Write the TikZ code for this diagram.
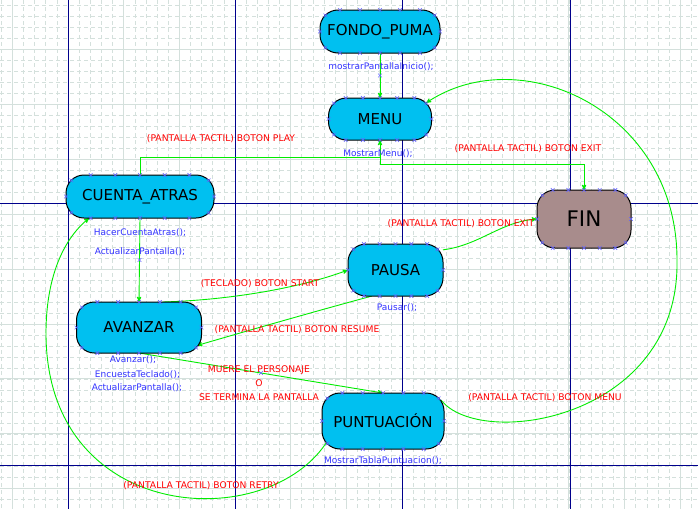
\documentclass[tikz,border=0pt]{standalone}
\usepackage{fontspec}
\setmainfont{DejaVu Sans}
\usetikzlibrary{arrows,calc}
\pgfdeclarelayer{background}
\pgfsetlayers{background,main}
\definecolor{celeste}{RGB}{0,192,240}
\definecolor{marron}{RGB}{168,140,140}
\definecolor{verde}{RGB}{0,236,0}
\definecolor{rejilla}{RGB}{212,224,220}
\definecolor{marino}{RGB}{0,0,140}
\definecolor{azul}{RGB}{50,50,255}
\definecolor{cruz}{RGB}{100,100,255}
\tikzstyle{estado}=[draw=black,line width=1pt,fill=celeste,rectangle,rounded corners=18pt,inner sep=0pt,outer sep=0pt,font=\fontsize{15}{18}\selectfont]
\tikzstyle{trans}=[draw=verde,line width=0.9pt,-stealth']
\tikzstyle{etiq}=[text=red,font=\fontsize{9.2}{14}\selectfont,inner sep=0pt]
\tikzstyle{accion}=[text=azul,font=\fontsize{9}{11}\selectfont,inner sep=0pt]
\tikzstyle{menor}=[rejilla,line width=0.6pt,dash pattern=on 4pt off 3pt]
\tikzstyle{mayor}=[rejilla,line width=0.9pt]
\tikzstyle{pagina}=[marino,line width=0.8pt]
\tikzset{xmk/.pic={\draw[cruz,line width=0.6pt] (-1.8pt,-1.8pt) -- (1.8pt,1.8pt) (-1.8pt,1.8pt) -- (1.8pt,-1.8pt);}}
% little x handles round a state
\newcommand{\statemarks}[1]{%
  \foreach \fr in {0.1667,0.3333,0.5,0.6667,0.8333}{
    \path ($(#1.north west)!\fr!(#1.north east)$) pic{xmk};
    \path ($(#1.south west)!\fr!(#1.south east)$) pic{xmk};
  }
  \path (#1.west) pic{xmk} (#1.east) pic{xmk};
  \path ([shift={(5.3pt,-5.3pt)}]#1.north west) pic{xmk}
        ([shift={(-5.3pt,-5.3pt)}]#1.north east) pic{xmk}
        ([shift={(5.3pt,5.3pt)}]#1.south west) pic{xmk}
        ([shift={(-5.3pt,5.3pt)}]#1.south east) pic{xmk};
}

\begin{document}
\begin{tikzpicture}[x=1pt,y=-1pt]
	\useasboundingbox (0,0) rectangle (698,509);

	% First the sheet: grid and page borders
	\begin{pgfonlayer}{background}
		\fill[white] (0,0) rectangle (698,509);
		\foreach \i in {0,...,62} \draw[menor] ({1.27+11.13*\i},0) -- ++(0,509);
		\foreach \i in {1,...,46} \draw[menor] (0,{-5.4+10.98*\i}) -- ++(698,0);
		\foreach \i in {0,...,12} \draw[mayor] ({12.4+55.65*\i},0) -- ++(0,509);
		\foreach \i in {1,...,9} \draw[mayor] (0,{-5.4+54.9*\i}) -- ++(698,0);
		\foreach \x in {68,235,402,570} \draw[pagina] (\x,0) -- ++(0,509);
		\foreach \y in {203,465} \draw[pagina] (0,\y) -- ++(698,0);
	\end{pgfonlayer}

	% Then the states
	\foreach \pos/\name/\txt/\w/\h in {{(380,31.5)/fondo/FONDO\_PUMA/120/43}, {(380,119)/menu/MENU/103/42},
							{(140,196.5)/cuenta/CUENTA\_ATRAS/148/43}, {(395.5,270)/pausa/PAUSA/95/52},
							{(139,327.5)/avanzar/AVANZAR/125/51}, {(383,421)/punt/PUNTUACIÓN/122/56}}
	\node[estado,minimum width=\w pt,minimum height=\h pt] (\name) at \pos {\txt};
	\node[estado,fill=marron,minimum width=94pt,minimum height=58pt,font=\fontsize{21.5}{24}\selectfont] (fin) at (584,219) {FIN};

	\foreach \n in {fondo,menu,cuenta,pausa,avanzar,punt,fin} {\statemarks{\n}}

	% What each state does
	\node[accion] (afondo) at (381,67) {mostrarPantallaInicio();};
	\node[accion] (amenu) at (378,154) {MostrarMenu();};
	\node[accion] (acuenta1) at (140,233) {HacerCuentaAtras();};
	\node[accion] (acuenta2) at (140,252) {ActualizarPantalla();};
	\node[accion] (apausa) at (397,308) {Pausar();};
	\node[accion] (aavanzar1) at (133,360) {Avanzar();};
	\node[accion] (aavanzar2) at (137.5,375) {EncuestaTeclado();};
	\node[accion] (aavanzar3) at (137,388) {ActualizarPantalla();};
	\node[accion] (apunt) at (383,461) {MostrarTablaPuntuacion();};

	% Connect states with transitions
	\begin{pgfonlayer}{background}
		\path[trans] (fondo.south) -- coordinate[midway] (m1) (menu.north);
		\path[trans] (cuenta.north) -- ++(0,-18) -| (menu.south);
		\path[trans] (menu.south) -- ++(0,24) -| (fin.north);
		\path[trans] (cuenta.south) -- coordinate[midway] (m2) (avanzar.north);
		\path[trans] ($(avanzar.north west)!.69!(avanzar.north east)$) .. controls (230,300) and (300,288) .. (pausa.west);
		\path[trans] (pausa.228) .. controls (320,310) and (250,330) .. ([shift={(58pt,-18pt)}]avanzar.center);
		\path[trans] (avanzar.south) -- coordinate[midway] (m3) (punt.north);
		\path[trans] (pausa.23) .. controls (480,245) and (500,222) .. (fin.west);
		\path[trans] ([shift={(58pt,21pt)}]punt.center) .. controls (480,450) and (680,420) .. (677,260)
			.. controls (677,110) and (520,40) .. ([shift={(46pt,16pt)}]menu.center);
		\path[trans] ([shift={(-55pt,-19pt)}]punt.center) .. controls (270,535) and (46,525) .. (46,333)
			.. controls (46,280) and (62,240) .. (cuenta.203);
	\end{pgfonlayer}
	\foreach \m in {m1,m2,m3} \path (\m) pic{xmk};

	% and the labels of the transitions
	\node[etiq] (lplay) at (221,139) {(PANTALLA TACTIL) BOTON PLAY};
	\node[etiq] (lexitmenu) at (528,149) {(PANTALLA TACTIL) BOTON EXIT};
	\node[etiq] (lexitpausa) at (461,224) {(PANTALLA TACTIL) BOTON EXIT};
	\node[etiq] (lstart) at (260,284) {(TECLADO) BOTON START};
	\node[etiq] (lresume) at (297,330) {(PANTALLA TACTIL) BOTON RESUME};
	\node[etiq,align=center] (lmuere) at (259,383) {MUERE EL PERSONAJE\\O\\SE TERMINA LA PANTALLA};
	\node[etiq] (lmenu) at (545,398) {(PANTALLA TACTIL) BOTON MENU};
	\node[etiq] (lretry) at (201,486) {(PANTALLA TACTIL) BOTON RETRY};
\end{tikzpicture}
\end{document}
